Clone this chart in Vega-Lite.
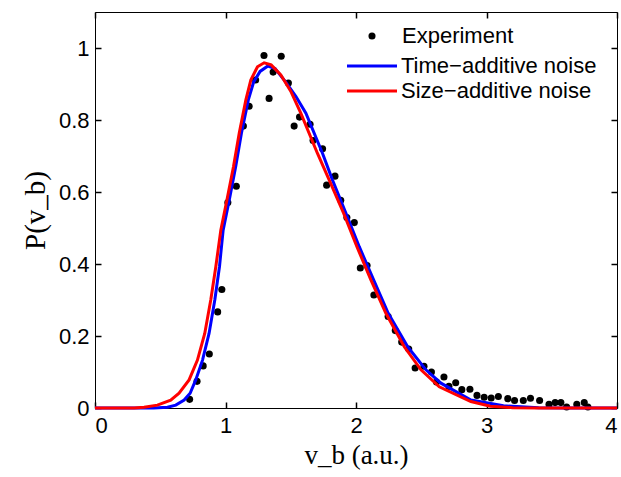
{
  "$schema": "https://vega.github.io/schema/vega-lite/v6.json",
  "width": 522,
  "height": 396,
  "autosize": {"type": "none"},
  "padding": {"left": 95, "top": 12, "right": 4, "bottom": 69},
  "background": "white",
  "config": {
    "view": {"stroke": "black", "strokeWidth": 1, "fill": null},
    "axis": {
      "grid": false,
      "domain": false,
      "ticks": true,
      "zindex": 2,
      "tickColor": "black",
      "tickOpacity": 1,
      "tickWidth": 1.5,
      "tickSize": 6,
      "labelFont": "Liberation Sans",
      "labelFontSize": 22,
      "labelColor": "black",
      "titleColor": "black",
      "titleFontWeight": "normal",
      "format": "~g"
    },
    "legend": {
      "labelFont": "Liberation Sans",
      "labelFontSize": 22,
      "labelColor": "black",
      "labelLimit": 0,
      "padding": 0,
      "title": null
    }
  },
  "datasets": {
    "pts": [
      {"v": 0.725, "p": 0.024, "series": "Experiment"},
      {"v": 0.782, "p": 0.074, "series": "Experiment"},
      {"v": 0.829, "p": 0.117, "series": "Experiment"},
      {"v": 0.876, "p": 0.150, "series": "Experiment"},
      {"v": 0.940, "p": 0.267, "series": "Experiment"},
      {"v": 0.972, "p": 0.329, "series": "Experiment"},
      {"v": 1.018, "p": 0.571, "series": "Experiment"},
      {"v": 1.083, "p": 0.616, "series": "Experiment"},
      {"v": 1.137, "p": 0.783, "series": "Experiment"},
      {"v": 1.181, "p": 0.838, "series": "Experiment"},
      {"v": 1.231, "p": 0.911, "series": "Experiment"},
      {"v": 1.295, "p": 0.979, "series": "Experiment"},
      {"v": 1.334, "p": 0.860, "series": "Experiment"},
      {"v": 1.365, "p": 0.933, "series": "Experiment"},
      {"v": 1.427, "p": 0.977, "series": "Experiment"},
      {"v": 1.482, "p": 0.903, "series": "Experiment"},
      {"v": 1.526, "p": 0.783, "series": "Experiment"},
      {"v": 1.567, "p": 0.808, "series": "Experiment"},
      {"v": 1.648, "p": 0.788, "series": "Experiment"},
      {"v": 1.671, "p": 0.743, "series": "Experiment"},
      {"v": 1.744, "p": 0.720, "series": "Experiment"},
      {"v": 1.775, "p": 0.619, "series": "Experiment"},
      {"v": 1.839, "p": 0.644, "series": "Experiment"},
      {"v": 1.883, "p": 0.577, "series": "Experiment"},
      {"v": 1.930, "p": 0.529, "series": "Experiment"},
      {"v": 1.987, "p": 0.515, "series": "Experiment"},
      {"v": 2.033, "p": 0.389, "series": "Experiment"},
      {"v": 2.085, "p": 0.396, "series": "Experiment"},
      {"v": 2.137, "p": 0.314, "series": "Experiment"},
      {"v": 2.246, "p": 0.254, "series": "Experiment"},
      {"v": 2.301, "p": 0.215, "series": "Experiment"},
      {"v": 2.350, "p": 0.183, "series": "Experiment"},
      {"v": 2.404, "p": 0.164, "series": "Experiment"},
      {"v": 2.453, "p": 0.111, "series": "Experiment"},
      {"v": 2.521, "p": 0.116, "series": "Experiment"},
      {"v": 2.578, "p": 0.100, "series": "Experiment"},
      {"v": 2.617, "p": 0.072, "series": "Experiment"},
      {"v": 2.674, "p": 0.086, "series": "Experiment"},
      {"v": 2.712, "p": 0.060, "series": "Experiment"},
      {"v": 2.764, "p": 0.070, "series": "Experiment"},
      {"v": 2.811, "p": 0.051, "series": "Experiment"},
      {"v": 2.873, "p": 0.052, "series": "Experiment"},
      {"v": 2.927, "p": 0.035, "series": "Experiment"},
      {"v": 2.982, "p": 0.030, "series": "Experiment"},
      {"v": 3.036, "p": 0.028, "series": "Experiment"},
      {"v": 3.091, "p": 0.032, "series": "Experiment"},
      {"v": 3.163, "p": 0.026, "series": "Experiment"},
      {"v": 3.215, "p": 0.021, "series": "Experiment"},
      {"v": 3.282, "p": 0.021, "series": "Experiment"},
      {"v": 3.337, "p": 0.027, "series": "Experiment"},
      {"v": 3.407, "p": 0.021, "series": "Experiment"},
      {"v": 3.479, "p": 0.010, "series": "Experiment"},
      {"v": 3.526, "p": 0.015, "series": "Experiment"},
      {"v": 3.570, "p": 0.015, "series": "Experiment"},
      {"v": 3.614, "p": 0.003, "series": "Experiment"},
      {"v": 3.692, "p": 0.010, "series": "Experiment"},
      {"v": 3.749, "p": 0.015, "series": "Experiment"},
      {"v": 3.777, "p": 0.003, "series": "Experiment"}
    ],
    "curves": [
      {"v": 0.0, "p": 0.0, "series": "Time−additive noise"},
      {"v": 0.45, "p": 0.0, "series": "Time−additive noise"},
      {"v": 0.555, "p": 0.002, "series": "Time−additive noise"},
      {"v": 0.619, "p": 0.008, "series": "Time−additive noise"},
      {"v": 0.683, "p": 0.022, "series": "Time−additive noise"},
      {"v": 0.729, "p": 0.041, "series": "Time−additive noise"},
      {"v": 0.772, "p": 0.078, "series": "Time−additive noise"},
      {"v": 0.824, "p": 0.133, "series": "Time−additive noise"},
      {"v": 0.874, "p": 0.207, "series": "Time−additive noise"},
      {"v": 0.918, "p": 0.300, "series": "Time−additive noise"},
      {"v": 0.954, "p": 0.393, "series": "Time−additive noise"},
      {"v": 0.982, "p": 0.494, "series": "Time−additive noise"},
      {"v": 1.030, "p": 0.580, "series": "Time−additive noise"},
      {"v": 1.078, "p": 0.670, "series": "Time−additive noise"},
      {"v": 1.122, "p": 0.763, "series": "Time−additive noise"},
      {"v": 1.175, "p": 0.856, "series": "Time−additive noise"},
      {"v": 1.215, "p": 0.905, "series": "Time−additive noise"},
      {"v": 1.265, "p": 0.935, "series": "Time−additive noise"},
      {"v": 1.325, "p": 0.950, "series": "Time−additive noise"},
      {"v": 1.380, "p": 0.943, "series": "Time−additive noise"},
      {"v": 1.462, "p": 0.905, "series": "Time−additive noise"},
      {"v": 1.540, "p": 0.865, "series": "Time−additive noise"},
      {"v": 1.616, "p": 0.819, "series": "Time−additive noise"},
      {"v": 1.744, "p": 0.707, "series": "Time−additive noise"},
      {"v": 1.820, "p": 0.633, "series": "Time−additive noise"},
      {"v": 1.923, "p": 0.541, "series": "Time−additive noise"},
      {"v": 2.025, "p": 0.448, "series": "Time−additive noise"},
      {"v": 2.135, "p": 0.356, "series": "Time−additive noise"},
      {"v": 2.247, "p": 0.263, "series": "Time−additive noise"},
      {"v": 2.396, "p": 0.170, "series": "Time−additive noise"},
      {"v": 2.536, "p": 0.106, "series": "Time−additive noise"},
      {"v": 2.651, "p": 0.069, "series": "Time−additive noise"},
      {"v": 2.881, "p": 0.022, "series": "Time−additive noise"},
      {"v": 3.130, "p": 0.006, "series": "Time−additive noise"},
      {"v": 3.400, "p": 0.001, "series": "Time−additive noise"},
      {"v": 3.600, "p": 0.0, "series": "Time−additive noise"},
      {"v": 4.0, "p": 0.0, "series": "Time−additive noise"},
      {"v": 0.0, "p": 0.0, "series": "Size−additive noise"},
      {"v": 0.30, "p": 0.0, "series": "Size−additive noise"},
      {"v": 0.376, "p": 0.002, "series": "Size−additive noise"},
      {"v": 0.478, "p": 0.008, "series": "Size−additive noise"},
      {"v": 0.580, "p": 0.022, "series": "Size−additive noise"},
      {"v": 0.644, "p": 0.041, "series": "Size−additive noise"},
      {"v": 0.721, "p": 0.078, "series": "Size−additive noise"},
      {"v": 0.785, "p": 0.133, "series": "Size−additive noise"},
      {"v": 0.841, "p": 0.207, "series": "Size−additive noise"},
      {"v": 0.887, "p": 0.300, "series": "Size−additive noise"},
      {"v": 0.926, "p": 0.393, "series": "Size−additive noise"},
      {"v": 0.964, "p": 0.494, "series": "Size−additive noise"},
      {"v": 1.012, "p": 0.580, "series": "Size−additive noise"},
      {"v": 1.061, "p": 0.670, "series": "Size−additive noise"},
      {"v": 1.105, "p": 0.763, "series": "Size−additive noise"},
      {"v": 1.156, "p": 0.856, "series": "Size−additive noise"},
      {"v": 1.194, "p": 0.911, "series": "Size−additive noise"},
      {"v": 1.245, "p": 0.948, "series": "Size−additive noise"},
      {"v": 1.296, "p": 0.959, "series": "Size−additive noise"},
      {"v": 1.350, "p": 0.953, "series": "Size−additive noise"},
      {"v": 1.424, "p": 0.925, "series": "Size−additive noise"},
      {"v": 1.500, "p": 0.880, "series": "Size−additive noise"},
      {"v": 1.577, "p": 0.819, "series": "Size−additive noise"},
      {"v": 1.705, "p": 0.707, "series": "Size−additive noise"},
      {"v": 1.795, "p": 0.633, "series": "Size−additive noise"},
      {"v": 1.905, "p": 0.541, "series": "Size−additive noise"},
      {"v": 2.007, "p": 0.448, "series": "Size−additive noise"},
      {"v": 2.114, "p": 0.356, "series": "Size−additive noise"},
      {"v": 2.229, "p": 0.263, "series": "Size−additive noise"},
      {"v": 2.370, "p": 0.170, "series": "Size−additive noise"},
      {"v": 2.498, "p": 0.106, "series": "Size−additive noise"},
      {"v": 2.638, "p": 0.059, "series": "Size−additive noise"},
      {"v": 2.880, "p": 0.018, "series": "Size−additive noise"},
      {"v": 3.030, "p": 0.005, "series": "Size−additive noise"},
      {"v": 3.200, "p": 0.001, "series": "Size−additive noise"},
      {"v": 3.400, "p": 0.0, "series": "Size−additive noise"},
      {"v": 4.0, "p": 0.0, "series": "Size−additive noise"}
    ]
  },
  "resolve": {
    "scale": {"color": "independent"},
    "axis": {"x": "independent", "y": "independent"}
  },
  "layer": [
    {
      "data": {"name": "pts"},
      "mark": {"type": "point", "filled": true, "size": 50, "opacity": 1},
      "encoding": {
        "x": {
          "field": "v", "type": "quantitative",
          "scale": {"domain": [0, 4], "nice": false, "zero": false},
          "axis": {"values": [0, 1, 2, 3, 4], "orient": "bottom", "labelPadding": 7, "offset": -6,
            "title": "v_b (a.u.)", "titleFont": "Liberation Serif", "titleFontSize": 27, "titlePadding": 6}
        },
        "y": {
          "field": "p", "type": "quantitative",
          "scale": {"domain": [0, 1.1], "nice": false, "zero": false},
          "axis": {"values": [0, 0.2, 0.4, 0.6, 0.8, 1], "orient": "left", "labelPadding": 6, "offset": -6,
            "title": "P(v_b)", "titleFont": "Liberation Serif", "titleFontSize": 29, "titlePadding": 8}
        },
        "color": {
          "field": "series", "type": "nominal",
          "scale": {"domain": ["Experiment"], "range": ["black"]},
          "legend": {
            "orient": "none", "legendX": 266, "legendY": 13,
            "symbolType": "circle", "symbolSize": 50, "symbolStrokeWidth": 0,
            "symbolFillColor": "black", "symbolOpacity": 1,
            "labelOffset": 19
          }
        }
      }
    },
    {
      "data": {"name": "curves"},
      "encoding": {
        "x": {"field": "v", "type": "quantitative", "axis": {"orient": "top", "values": [0, 1, 2, 3, 4], "labels": false, "title": null, "offset": -6}},
        "y": {"field": "p", "type": "quantitative", "axis": {"orient": "right", "values": [0, 0.2, 0.4, 0.6, 0.8, 1], "labels": false, "title": null, "offset": -6}},
        "color": {
          "field": "series", "type": "nominal",
          "scale": {"domain": ["Time−additive noise", "Size−additive noise"], "range": ["blue", "red"]},
          "legend": {
            "orient": "none", "legendX": 263, "legendY": 40,
            "symbolType": "M-2,0L2,0", "symbolSize": 625, "symbolStrokeWidth": 3,
            "symbolOpacity": 1, "rowPadding": 0,
            "labelOffset": 15
          }
        }
      },
      "layer": [
        {
          "transform": [{"filter": "datum.series === 'Time−additive noise'"}],
          "mark": {"type": "line", "strokeWidth": 3}
        },
        {
          "transform": [{"filter": "datum.series === 'Size−additive noise'"}],
          "mark": {"type": "line", "strokeWidth": 3}
        }
      ]
    }
  ]
}
